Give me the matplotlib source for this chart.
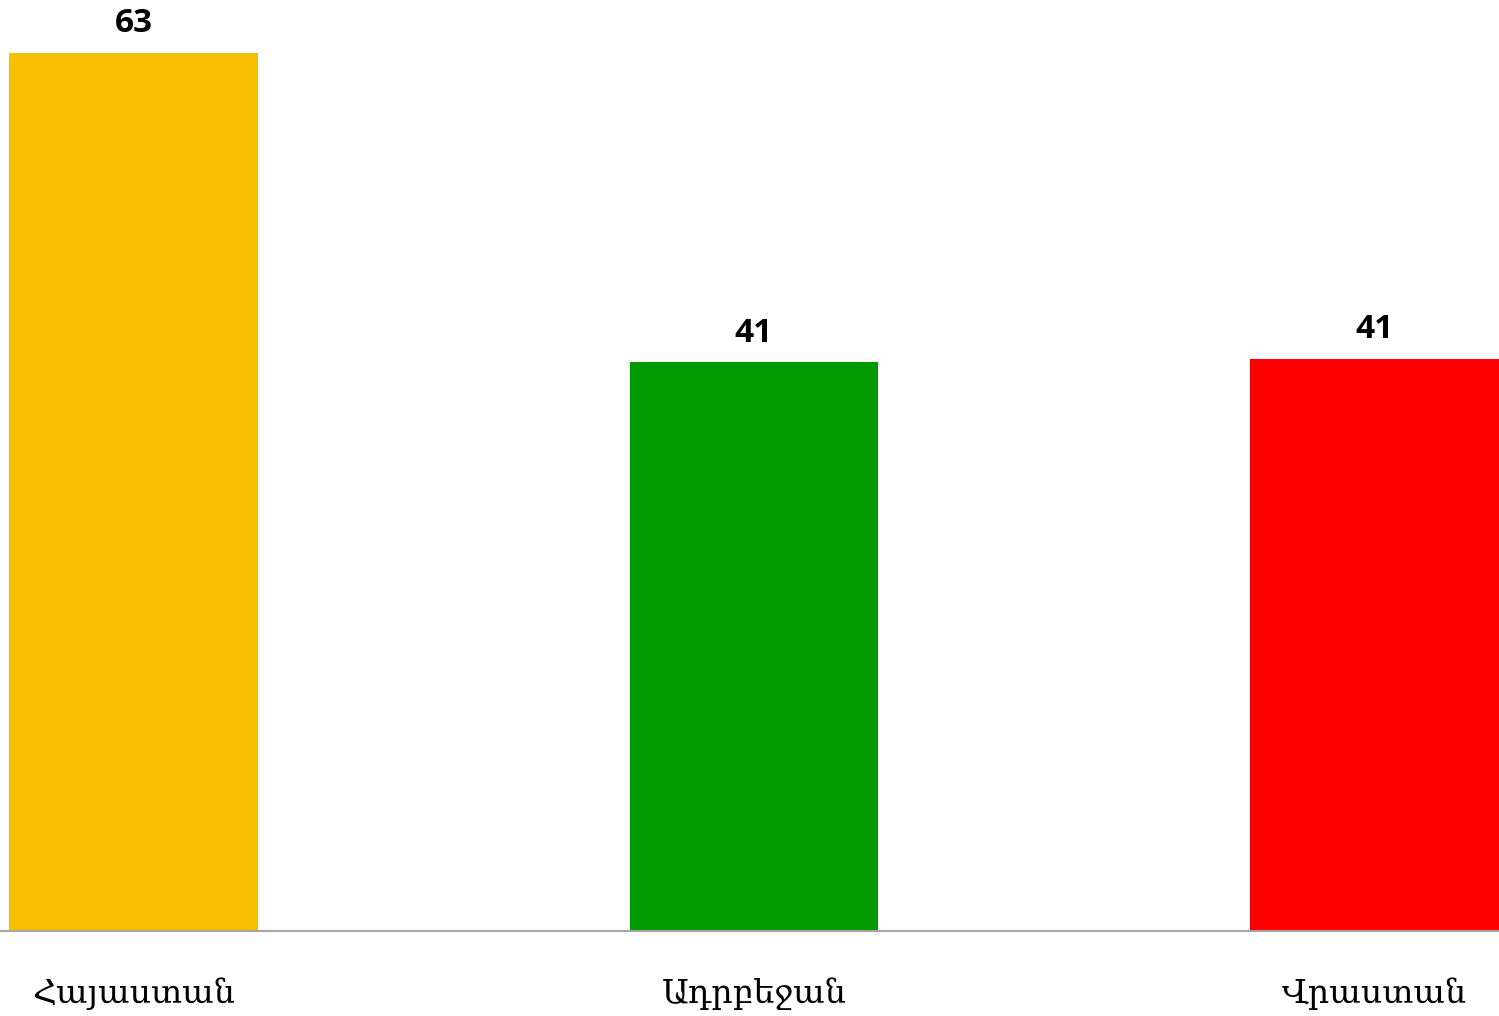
import matplotlib
matplotlib.use("Agg")
import matplotlib.pyplot as plt

categories = ["Հայաստան", "Ադրբեջան", "Վրաստան"]
values = [63.0, 40.8, 41.05]
labels = ["63", "41", "41"]
colors = ["#F8BE00", "#009900", "#FF0000"]

fig = plt.figure(figsize=(14.99, 10.16), dpi=100)
ax = fig.add_axes([0, (1016 - 931) / 1016, 1, 931 / 1016])
x = list(range(len(categories)))
ax.bar(x, values, width=0.4, color=colors, zorder=2)
ax.set_xlim(-0.215, 2.2006)
ax.set_ylim(0, 931 / (878 / 63))

for s in ["top", "right", "left"]:
    ax.spines[s].set_visible(False)
ax.spines["bottom"].set_color("#a6a6a6")
ax.spines["bottom"].set_linewidth(1.5)
ax.set_yticks([])
ax.set_xticks([])

for xi, v, lab in zip(x, values, labels):
    ax.annotate(lab, xy=(xi, v), xytext=(0, 15), textcoords="offset points",
                ha="center", va="baseline", fontsize=24, fontweight="bold",
                family="Open Sans", color="black")

for xi, cat in zip(x, categories):
    ax.annotate(cat, xy=(xi, 0), xycoords=("data", "axes fraction"),
                xytext=(0, -52), textcoords="offset points",
                ha="center", va="baseline", fontsize=24, fontweight="medium",
                family=["DejaVu Serif", "DejaVu Sans"], color="black",
                annotation_clip=False)

fig.savefig("out.png", dpi=100)
